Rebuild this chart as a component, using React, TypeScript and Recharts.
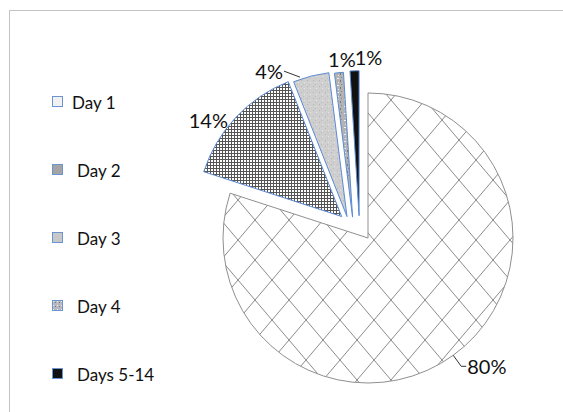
import React from 'react';
import { PieChart, Pie, Cell, Sector } from 'recharts';

const categories = ['Day 1', 'Day 2', 'Day 3', 'Day 4', 'Days 5-14'];
const shares = [80, 14, 4, 1, 1];
const pctLabels = ['80%', '14%', '4%', '1%', '1%'];

const data = categories.map((name, i) => ({ name, value: shares[i], label: pctLabels[i] }));

const sliceFills = ['url(#pDay1)', 'url(#pDay2)', 'url(#pDay3)', 'url(#pDay4)', '#111111'];
const sliceStrokes = ['#8f8f8f', '#5b8bd6', '#5b8bd6', '#5b8bd6', '#5b8bd6'];
const legendFills = ['#f1f1f3', '#a4a4a4', '#c8c8c8', 'url(#pDay4s)', '#111111'];
// explosion distance (px) and extra turn (deg) of the explosion direction
const explode = [0, 34, 30, 26, 24];
const explodeTurn = [0, 4, 30, 31, 20];
const RAD = Math.PI / 180;
const FONT = 'Lato, "Open Sans", sans-serif';

const idxOf = (p: any) => {
  const n = p?.name ?? p?.payload?.name;
  return Math.max(0, categories.indexOf(n));
};

const offsetOf = (i: number, midAngle: number) => {
  const d = explode[i] || 0;
  const a = -(midAngle + (explodeTurn[i] || 0)) * RAD;
  return [d * Math.cos(a), d * Math.sin(a)];
};

const ExplodedSector = (props: any) => {
  const i = idxOf(props);
  const [dx, dy] = offsetOf(i, props.midAngle);
  return (
    <Sector
      {...props}
      cx={props.cx + dx}
      cy={props.cy + dy}
      fill={sliceFills[i]}
      stroke={sliceStrokes[i]}
      strokeWidth={1}
    />
  );
};

const renderLabel = (p: any) => {
  const i = idxOf(p);
  const [dx, dy] = offsetOf(i, p.midAngle);
  const a = -p.midAngle * RAD;
  const ox = p.cx + p.outerRadius * Math.cos(a) + dx;
  const oy = p.cy + p.outerRadius * Math.sin(a) + dy;
  const txt = pctLabels[i];
  const common = { fontFamily: FONT, fontSize: 20, fill: '#111' };
  if (i === 0) {
    const x1 = ox + 8, y1 = oy + 11;
    return (
      <g>
        <path d={`M${ox},${oy} L${x1},${y1} L${x1 + 5},${y1}`} stroke="#333" fill="none" />
        <text x={x1 + 6} y={y1} dominantBaseline="central" textAnchor="start" {...common}>{txt}</text>
      </g>
    );
  }
  if (i === 1) {
    return <text x={ox - 8} y={oy + 3} dominantBaseline="central" textAnchor="end" {...common}>{txt}</text>;
  }
  if (i === 2) {
    return (
      <g>
        <path d={`M${ox - 11},${oy + 1} L${ox - 27},${oy - 5}`} stroke="#333" fill="none" />
        <text x={ox - 28} y={oy - 5} dominantBaseline="central" textAnchor="end" {...common}>{txt}</text>
      </g>
    );
  }
  const shift = i === 3 ? 3 : 14;
  return <text x={ox + shift} y={oy - 14} dominantBaseline="central" textAnchor="middle" {...common}>{txt}</text>;
};

const LegendBox = () => (
  <div style={{ position: 'absolute', left: 52, top: 68, fontFamily: FONT, fontSize: 17, color: '#111' }}>
    {categories.map((c, i) => (
      <div key={c} style={{ display: 'flex', alignItems: 'center', height: 68 }}>
        <svg width={12} height={12} style={{ marginRight: i === 0 ? 8 : 13 }}>
          <rect x={0.5} y={0.5} width={10} height={10} fill={legendFills[i]} stroke="#6a93d0" strokeWidth={1} />
        </svg>
        <span>{c}</span>
      </div>
    ))}
  </div>
);

export default function App() {
  return (
    <div style={{ position: 'absolute', left: 0, top: 0, width: 563, height: 412, background: '#fff' }}>
      <svg width={0} height={0} style={{ position: 'absolute' }}>
        <defs>
          <pattern id="pDay1" patternUnits="userSpaceOnUse" width={34} height={40}>
            <rect width={34} height={40} fill="#fff" />
            <path d="M0,0 L34,40 M34,0 L0,40" stroke="#8a8a8a" strokeWidth={1} />
          </pattern>
          <pattern id="pDay2" patternUnits="userSpaceOnUse" width={3} height={3}>
            <rect width={3} height={3} fill="#fff" />
            <path d="M0,0.5 H3 M0.5,0 V3" stroke="#555" strokeWidth={1} />
          </pattern>
          <pattern id="pDay3" patternUnits="userSpaceOnUse" width={6} height={6}>
            <rect width={6} height={6} fill="#cfcfcf" />
            <rect x={1} y={2} width={1} height={1} fill="#b5b5b5" />
            <rect x={4} y={4} width={1} height={1} fill="#e6e6e6" />
            <rect x={3} y={0} width={1} height={1} fill="#bdbdbd" />
          </pattern>
          <pattern id="pDay4" patternUnits="userSpaceOnUse" width={7} height={7}>
            <rect width={7} height={7} fill="#b3b3b3" />
            <rect x={1} y={1} width={2} height={1} fill="#f0f0f0" />
            <rect x={4} y={3} width={1} height={2} fill="#7a7a7a" />
            <rect x={2} y={5} width={1} height={1} fill="#e5e5e5" />
            <rect x={5} y={0} width={1} height={1} fill="#888" />
          </pattern>
          <pattern id="pDay4s" patternUnits="userSpaceOnUse" width={4} height={4}>
            <rect width={4} height={4} fill="#b8b8c0" />
            <rect x={1} y={1} width={1} height={1} fill="#eee" />
            <rect x={3} y={2} width={1} height={1} fill="#777" />
          </pattern>
        </defs>
      </svg>
      <div style={{ position: 'absolute', left: 9, top: 10, width: 554, height: 402, borderTop: '1px solid #c3c3c3', borderLeft: '1px solid #c3c3c3' }} />
      <LegendBox />
      <div style={{ position: 'absolute', left: 0, top: 0 }}>
        <PieChart width={563} height={412} margin={{ top: 0, right: 0, bottom: 0, left: 0 }}>
          <Pie
            data={data}
            dataKey="value"
            nameKey="name"
            cx={368}
            cy={238}
            outerRadius={145}
            startAngle={90}
            endAngle={-270}
            isAnimationActive={false}
            shape={ExplodedSector}
            label={renderLabel}
            labelLine={false}
            stroke="#8f8f8f"
          >
            {data.map((d, i) => (
              <Cell key={d.name} fill={sliceFills[i]} stroke={sliceStrokes[i]} />
            ))}
          </Pie>
        </PieChart>
      </div>
    </div>
  );
}
